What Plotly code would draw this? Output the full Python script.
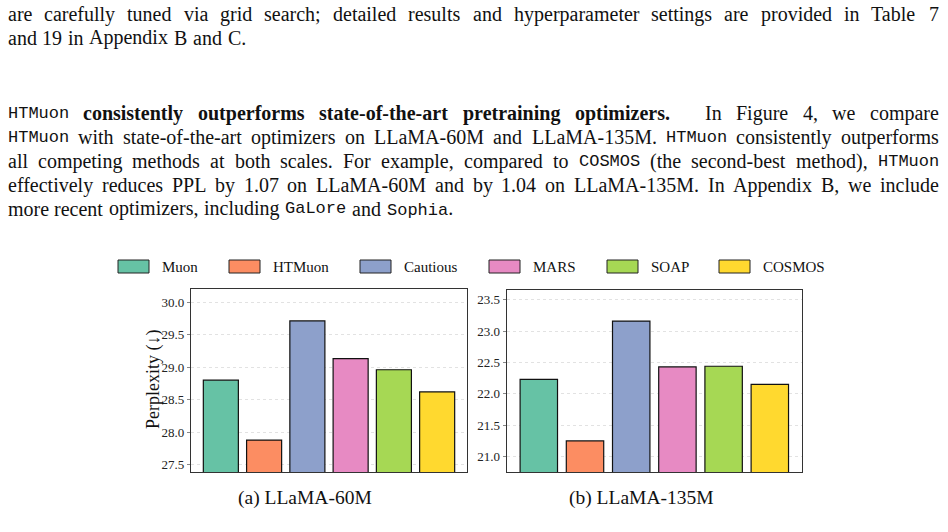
import plotly.graph_objects as go

# ---------------- data ----------------
methods = ["Muon", "HTMuon", "Cautious", "MARS", "SOAP", "COSMOS"]
ppl_60m = [28.80, 27.88, 29.71, 29.13, 28.96, 28.62]
ppl_135m = [22.23, 21.25, 23.16, 22.43, 22.44, 22.15]
ticks_60m = [27.5, 28.0, 28.5, 29.0, 29.5, 30.0]
ticks_135m = [21.0, 21.5, 22.0, 22.5, 23.0, 23.5]
captions = ["(a) LLaMA-60M", "(b) LLaMA-135M"]
y_label = "Perplexity (↓)"

# ---------------- style ----------------
colors = ["#66c2a5", "#fc8d62", "#8da0cb", "#e78ac3", "#a6d854", "#ffd92f"]
W, H = 948, 532
SERIF = "Liberation Serif"
MONO = "Liberation Mono"
BODY = 20.0
MONO_SIZE = 17.0
TEXT_L, TEXT_R = 6.5, 938.0


def px(x):
    return x / W


def py(y):
    return 1 - y / H


# Times (Liberation Serif metric-compatible) advance widths, 1/1000 em
_R = {' ': 250, '!': 333, '(': 333, ')': 333, ',': 250, '-': 333, '.': 250, ':': 278, ';': 278,
      'A': 722, 'B': 667, 'C': 667, 'D': 722, 'E': 611, 'F': 556, 'G': 722, 'H': 722, 'I': 333,
      'J': 389, 'K': 722, 'L': 611, 'M': 889, 'N': 722, 'O': 722, 'P': 556, 'Q': 722, 'R': 667,
      'S': 556, 'T': 611, 'U': 722, 'V': 722, 'W': 944, 'X': 722, 'Y': 722, 'Z': 611,
      'a': 444, 'b': 500, 'c': 444, 'd': 500, 'e': 444, 'f': 333, 'g': 500, 'h': 500, 'i': 278,
      'j': 278, 'k': 500, 'l': 278, 'm': 778, 'n': 500, 'o': 500, 'p': 500, 'q': 500, 'r': 333,
      's': 389, 't': 278, 'u': 500, 'v': 500, 'w': 722, 'x': 500, 'y': 500, 'z': 444}
_B = {' ': 250, '(': 333, ')': 333, ',': 250, '-': 333, '.': 250, ':': 333, ';': 333,
      'a': 500, 'b': 556, 'c': 444, 'd': 556, 'e': 444, 'f': 333, 'g': 500, 'h': 556, 'i': 278,
      'j': 333, 'k': 556, 'l': 278, 'm': 833, 'n': 556, 'o': 500, 'p': 556, 'q': 556, 'r': 444,
      's': 389, 't': 333, 'u': 556, 'v': 500, 'w': 722, 'x': 500, 'y': 500, 'z': 444}


def seg_width(text, style):
    if style == "t":
        return len(text) * 0.6 * MONO_SIZE
    table = _B if style == "b" else _R
    return sum(table.get(c, 500) for c in text) / 1000.0 * BODY


def seg_markup(text, style):
    if style == "t":
        return f'<span style="font-family:{MONO};font-size:{MONO_SIZE}px">{text}</span>'
    if style == "b":
        return f"<b>{text}</b>"
    return text


def parse(spec):
    """spec: list of (text, style); returns list of words, each a list of (text, style)."""
    words, cur = [], []
    for text, style in spec:
        parts = text.split(" ")
        for k, p in enumerate(parts):
            if k > 0:
                if cur:
                    words.append(cur)
                cur = []
            if p:
                cur.append((p, style))
    if cur:
        words.append(cur)
    return words


# body text: (baseline y, segments, justified?, word index followed by a quad)
body_lines = [
    (21.0, [("are carefully tuned via grid search; detailed results and hyperparameter settings are provided in Table 7", "r")], True, None),
    (44.5, [("and 19 in Appendix B and C.", "r")], False, None),
    (120.0, [("HTMuon", "t"), (" consistently outperforms state-of-the-art pretraining optimizers.", "b"),
             (" In Figure 4, we compare", "r")], True, 5),
    (144.0, [("HTMuon", "t"), (" with state-of-the-art optimizers on LLaMA-60M and LLaMA-135M. ", "r"),
             ("HTMuon", "t"), (" consistently outperforms", "r")], True, None),
    (168.0, [("all competing methods at both scales. For example, compared to ", "r"), ("COSMOS", "t"),
             (" (the second-best method), ", "r"), ("HTMuon", "t")], True, None),
    (192.0, [("effectively reduces PPL by 1.07 on LLaMA-60M and by 1.04 on LLaMA-135M. In Appendix B, we include", "r")], True, None),
    (215.5, [("more recent optimizers, including ", "r"), ("GaLore", "t"), (" and ", "r"), ("Sophia", "t"), (".", "r")], False, None),
]

fig = go.Figure()

for i, m in enumerate(methods):
    fig.add_trace(go.Bar(x=[i], y=[ppl_60m[i]], name=m, width=0.81,
                         marker=dict(color=colors[i], line=dict(color="#111", width=1.2)),
                         xaxis="x", yaxis="y", showlegend=False))
    fig.add_trace(go.Bar(x=[i], y=[ppl_135m[i]], name=m, width=0.81,
                         marker=dict(color=colors[i], line=dict(color="#111", width=1.2)),
                         xaxis="x2", yaxis="y2", showlegend=False))

axis_common = dict(showline=True, mirror=True, linecolor="#333", linewidth=1.3, zeroline=False)
yaxis_common = dict(axis_common, ticks="outside", ticklen=3, tickcolor="#888", tickwidth=1,
                    showgrid=True, gridcolor="#e2e2e2", griddash="dot", gridwidth=1,
                    tickfont=dict(family=SERIF, size=13, color="#222"), tickformat=".1f")

fig.update_layout(
    width=W, height=H, margin=dict(l=0, r=0, t=0, b=0),
    paper_bgcolor="white", plot_bgcolor="white", barmode="overlay",
    xaxis=dict(axis_common, domain=[px(191), px(467)], range=[-0.69, 5.69],
               showticklabels=False, ticks="", showgrid=False),
    yaxis=dict(yaxis_common, domain=[py(472), py(289)], range=[27.39, 30.2], tickvals=ticks_60m),
    xaxis2=dict(axis_common, domain=[px(506.7), px(801.7)], range=[-0.695, 5.69],
                showticklabels=False, ticks="", showgrid=False, anchor="y2"),
    yaxis2=dict(yaxis_common, domain=[py(472.3), py(289.7)], range=[20.75, 23.66],
                tickvals=ticks_135m, anchor="x2"),
)

ann = []
shapes = []

# y-axis label
ann.append(dict(text=y_label, x=px(153), y=py(380), xref="paper", yref="paper",
                textangle=-90, showarrow=False, xanchor="center", yanchor="middle",
                font=dict(family=SERIF, size=18, color="#111")))

# captions
for cx, cap in zip([305, 641], captions):
    ann.append(dict(text=cap, x=px(cx), y=py(498), xref="paper", yref="paper",
                    showarrow=False, xanchor="center", yanchor="middle",
                    font=dict(family=SERIF, size=19.5, color="#111")))

# legend (manual, swatch + label)
sw_x = [118, 229, 360, 489, 607, 719]
for i, m in enumerate(methods):
    x0 = sw_x[i]
    shapes.append(dict(type="rect", xref="paper", yref="paper",
                       x0=px(x0), x1=px(x0 + 31), y0=py(273), y1=py(260),
                       fillcolor=colors[i], line=dict(color="#222", width=1)))
    ann.append(dict(text=m, x=px(x0 + 42), y=py(266.5), xref="paper", yref="paper",
                    showarrow=False, xanchor="left", yanchor="middle",
                    font=dict(family=SERIF, size=15, color="#111")))

# body text, word by word, justified like the LaTeX page
for base, spec, justify, quad_after in body_lines:
    words = parse(spec)
    widths = [sum(seg_width(t, s) for t, s in w) for w in words]
    ngaps = len(words) - 1
    extra = BODY * 1.0 if quad_after is not None else 0.0
    if justify:
        gap = (TEXT_R - TEXT_L - sum(widths) - extra) / ngaps
    else:
        gap = 0.25 * BODY * 1.15
    yc = base - 0.3375 * BODY
    x = TEXT_L
    for k, w in enumerate(words):
        ann.append(dict(text="".join(seg_markup(t, s) for t, s in w), x=px(x), y=py(yc),
                        xref="paper", yref="paper", showarrow=False, xanchor="left",
                        yanchor="middle", borderpad=0,
                        font=dict(family=SERIF, size=BODY, color="#111")))
        x += widths[k] + gap
        if quad_after is not None and k == quad_after:
            x += extra

fig.update_layout(annotations=ann, shapes=shapes)
fig.write_html("out.html")
